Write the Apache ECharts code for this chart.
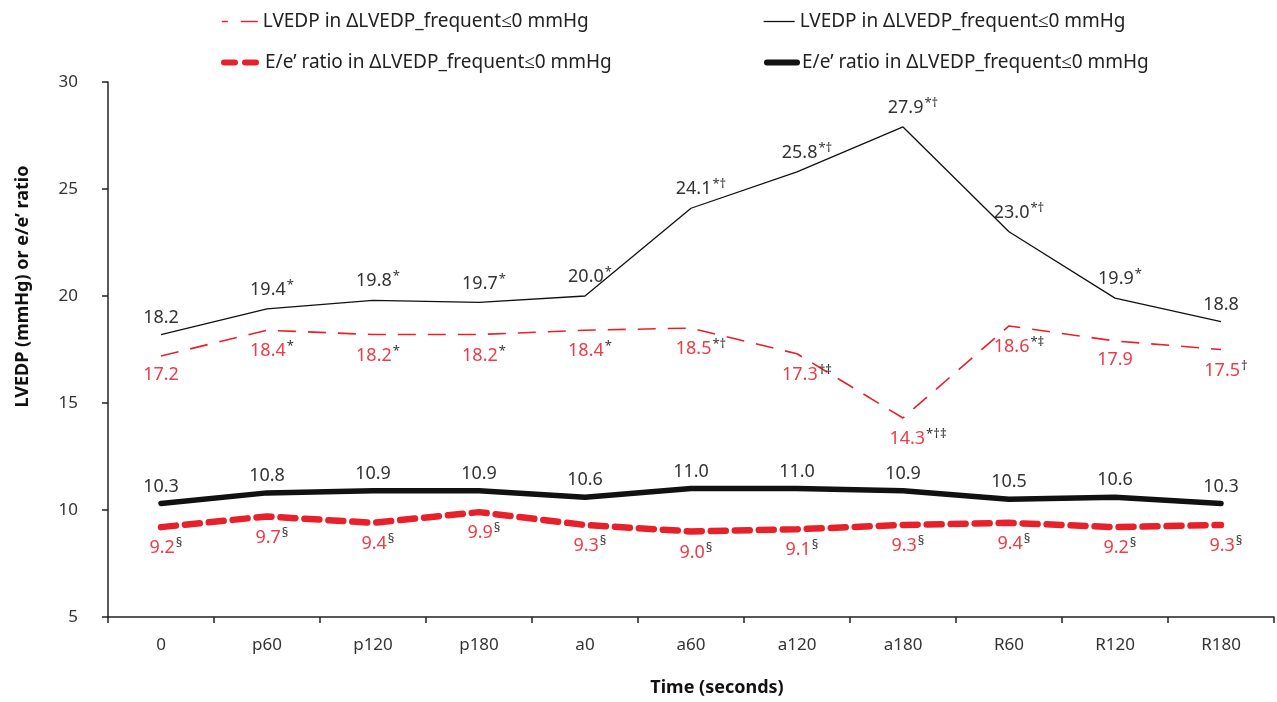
<!DOCTYPE html>
<html>
<head>
<meta charset="utf-8">
<script src="https://cdn.jsdelivr.net/npm/echarts@6/dist/echarts.min.js"></script>
<style>
  html, body { margin: 0; padding: 0; background: #fff; }
  #main { width: 1277px; height: 702px; }
</style>
</head>
<body>
<div id="main"></div>
<script>
// 时间点
var times = ['0', 'p60', 'p120', 'p180', 'a0', 'a60', 'a120', 'a180', 'R60', 'R120', 'R180'];

// LVEDP (细线)
var lvedpRed = [17.2, 18.4, 18.2, 18.2, 18.4, 18.5, 17.3, 14.3, 18.6, 17.9, 17.5];
var lvedpRedMarks = ['', '*', '*', '*', '*', '*†', '†‡', '*†‡', '*‡', '', '†'];
var lvedpBlack = [18.2, 19.4, 19.8, 19.7, 20.0, 24.1, 25.8, 27.9, 23.0, 19.9, 18.8];
var lvedpBlackMarks = ['', '*', '*', '*', '*', '*†', '*†', '*†', '*†', '*', ''];

// E/e' ratio (粗线)
var eeRed = [9.2, 9.7, 9.4, 9.9, 9.3, 9.0, 9.1, 9.3, 9.4, 9.2, 9.3];
var eeRedMarks = ['§', '§', '§', '§', '§', '§', '§', '§', '§', '§', '§'];
var eeBlack = [10.3, 10.8, 10.9, 10.9, 10.6, 11.0, 11.0, 10.9, 10.5, 10.6, 10.3];
var eeBlackMarks = ['', '', '', '', '', '', '', '', '', '', ''];

var FONT = 'Noto Sans';
var RED = '#e8202a';
var LABEL_RED = '#ee3b45';
var TXT = '#333';

var name1 = 'LVEDP in ΔLVEDP_frequent≤0 mmHg';
var name2 = 'LVEDP in ΔLVEDP_frequent≤0 mmHg\u200b';
var name3 = 'E/e\u2019 ratio in ΔLVEDP_frequent≤0 mmHg';
var name4 = 'E/e\u2019 ratio in ΔLVEDP_frequent≤0 mmHg\u200b';

function pack(vals, marks) {
  return vals.map(function (v, i) {
    return {
      value: v,
      mark: marks[i],
      label: { offset: [marks[i].length * 5, 0] }
    };
  });
}

function lbl(color, pos, dist) {
  return {
    show: true,
    position: pos,
    distance: dist,
    fontFamily: FONT,
    formatter: function (p) {
      var m = p.data.mark;
      return '{v|' + p.value.toFixed(1) + '}' + (m ? '{s|' + m + '}' : '');
    },
    rich: {
      v: { color: color, fontSize: 18, fontFamily: FONT },
      s: { color: TXT, fontSize: 13, fontFamily: FONT, padding: [0, 0, 9, 1] }
    }
  };
}

var myChart = echarts.init(document.getElementById('main'));

var legendBase = {
  orient: 'horizontal',
  padding: 0,
  itemWidth: 36,
  itemHeight: 14,
  itemGap: 6,
  selectedMode: false,
  itemStyle: { opacity: 0 },
  textStyle: { fontFamily: FONT, fontSize: 19, color: '#222' }
};

var option = {
  animation: false,
  backgroundColor: '#fff',
  legend: [
    Object.assign({}, legendBase, { data: [name1], left: 221, top: 12, lineStyle: { width: 1.6, type: [6, 13, 17, 20] } }),
    Object.assign({}, legendBase, { data: [name2], left: 763, top: 12, itemWidth: 31, lineStyle: { width: 1.3 } }),
    Object.assign({}, legendBase, { data: [name3], left: 221, top: 53, lineStyle: { width: 6, type: [11, 10], cap: 'round' } }),
    Object.assign({}, legendBase, { data: [name4], left: 764, top: 53, itemWidth: 30, lineStyle: { width: 6, cap: 'round' } })
  ],
  grid: { left: 108, right: 3, top: 82, bottom: 83 },
  xAxis: {
    type: 'category',
    data: times,
    boundaryGap: true,
    name: 'Time (seconds)',
    nameLocation: 'middle',
    nameGap: 62,
    nameTextStyle: { fontFamily: FONT, fontSize: 18, fontWeight: 'bold', color: '#111', padding: [0, 0, 0, 52] },
    axisLine: { lineStyle: { color: '#222', width: 1.5 } },
    axisTick: { show: true, length: 6, lineStyle: { color: '#222', width: 1.5 } },
    axisLabel: { fontFamily: FONT, fontSize: 17, color: TXT, margin: 20 }
  },
  yAxis: {
    type: 'value',
    min: 5,
    max: 30,
    interval: 5,
    name: 'LVEDP (mmHg) or e/e\u2019 ratio',
    nameLocation: 'middle',
    nameGap: 76,
    nameTextStyle: { fontFamily: FONT, fontSize: 18, fontWeight: 'bold', color: '#111', padding: [0, 0, 0, 126] },
    axisLine: { show: true, lineStyle: { color: '#222', width: 1.5 } },
    axisTick: { show: true, length: 6, lineStyle: { color: '#222', width: 1.5 } },
    axisLabel: { fontFamily: FONT, fontSize: 17, color: TXT, margin: 30 },
    splitLine: { show: false }
  },
  series: [
    {
      name: name1,
      type: 'line',
      symbol: 'circle',
      symbolSize: 0,
      data: pack(lvedpRed, lvedpRedMarks),
      itemStyle: { color: RED },
      lineStyle: { color: RED, width: 1.6, type: [18, 12] },
      label: lbl(LABEL_RED, 'bottom', 10),
      z: 3
    },
    {
      name: name2,
      type: 'line',
      symbol: 'circle',
      symbolSize: 0,
      data: pack(lvedpBlack, lvedpBlackMarks),
      itemStyle: { color: '#111' },
      lineStyle: { color: '#111', width: 1.3 },
      label: lbl(TXT, 'top', 8),
      z: 3
    },
    {
      name: name3,
      type: 'line',
      symbol: 'circle',
      symbolSize: 0,
      data: pack(eeRed, eeRedMarks),
      itemStyle: { color: RED },
      lineStyle: { color: RED, width: 6.5, type: [15, 9], cap: 'round' },
      label: lbl(LABEL_RED, 'bottom', 10),
      z: 2
    },
    {
      name: name4,
      type: 'line',
      symbol: 'circle',
      symbolSize: 0,
      data: pack(eeBlack, eeBlackMarks),
      itemStyle: { color: '#111' },
      lineStyle: { color: '#111', width: 5.5, cap: 'round' },
      label: lbl(TXT, 'top', 8),
      z: 2
    }
  ]
};

myChart.setOption(option);
</script>
</body>
</html>
